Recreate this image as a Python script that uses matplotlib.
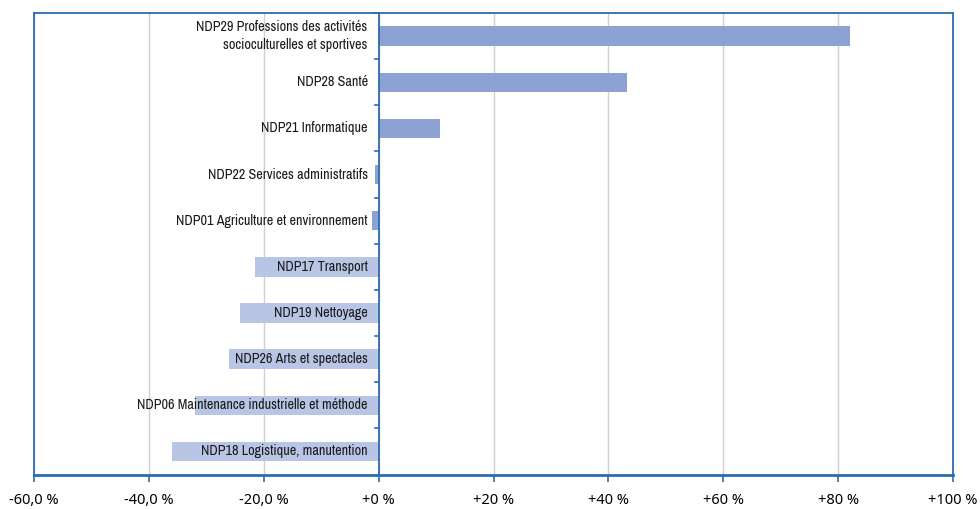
import matplotlib
matplotlib.use("Agg")
import matplotlib.pyplot as plt

# data, top to bottom
categories = [
    "NDP29 Professions des activités\nsocioculturelles et sportives",
    "NDP28 Santé",
    "NDP21 Informatique",
    "NDP22 Services administratifs",
    "NDP01 Agriculture et environnement",
    "NDP17 Transport",
    "NDP19 Nettoyage",
    "NDP26 Arts et spectacles",
    "NDP06 Maintenance industrielle et méthode",
    "NDP18 Logistique, manutention",
]
values = [82.0, 43.2, 10.6, -0.7, -1.2, -21.6, -24.2, -26.1, -32.0, -36.0]
groups = [0, 0, 0, 0, 0, 1, 1, 1, 1, 1]
tick_values = [-60, -40, -20, 0, 20, 40, 60, 80, 100]
tick_labels = ["-60,0 %", "-40,0 %", "-20,0 %", "+0 %", "+20 %",
               "+40 %", "+60 %", "+80 %", "+100 %"]

group_colors = ["#8BA2D2", "#B9C5E5"]
axis_blue = "#2B6CB0"

fig = plt.figure(figsize=(9.8, 5.09), dpi=100)
ax = fig.add_axes([34 / 980, 34.5 / 509, 919 / 980, 461.5 / 509])

n = len(categories)
ypos = list(range(n - 1, -1, -1))
ax.barh(ypos, values, height=0.42, color=[group_colors[g] for g in groups], zorder=2)

for y, lab in zip(ypos, categories):
    ax.text(-1.9, y, lab, ha="right", va="center", fontsize=10.2,
            family=["Archivo Narrow", "Liberation Sans"], color="#1a1a1a",
            zorder=3, linespacing=1.3)

ax.set_xlim(-60, 100)
ax.set_ylim(-0.5, n - 0.5)
ax.set_xticks(tick_values)
ax.set_xticklabels(tick_labels, fontsize=10.5, family=["Noto Sans", "DejaVu Sans"])
ax.set_yticks([])
ax.grid(axis="x", color="#D0D0D0", linewidth=1, zorder=0)
ax.tick_params(axis="x", direction="out", length=5, color=axis_blue, width=1.2, pad=8)

for s in ax.spines.values():
    s.set_color(axis_blue)
    s.set_linewidth(1.3)
ax.spines["bottom"].set_linewidth(2)

# zero axis with category separators
ax.axvline(0, color=axis_blue, linewidth=1.3, zorder=3)
for k in range(n + 1):
    ax.plot([-0.7, 0], [k - 0.5, k - 0.5], color=axis_blue, linewidth=1.2,
            zorder=3, clip_on=False)

fig.savefig("out.png", dpi=100)
